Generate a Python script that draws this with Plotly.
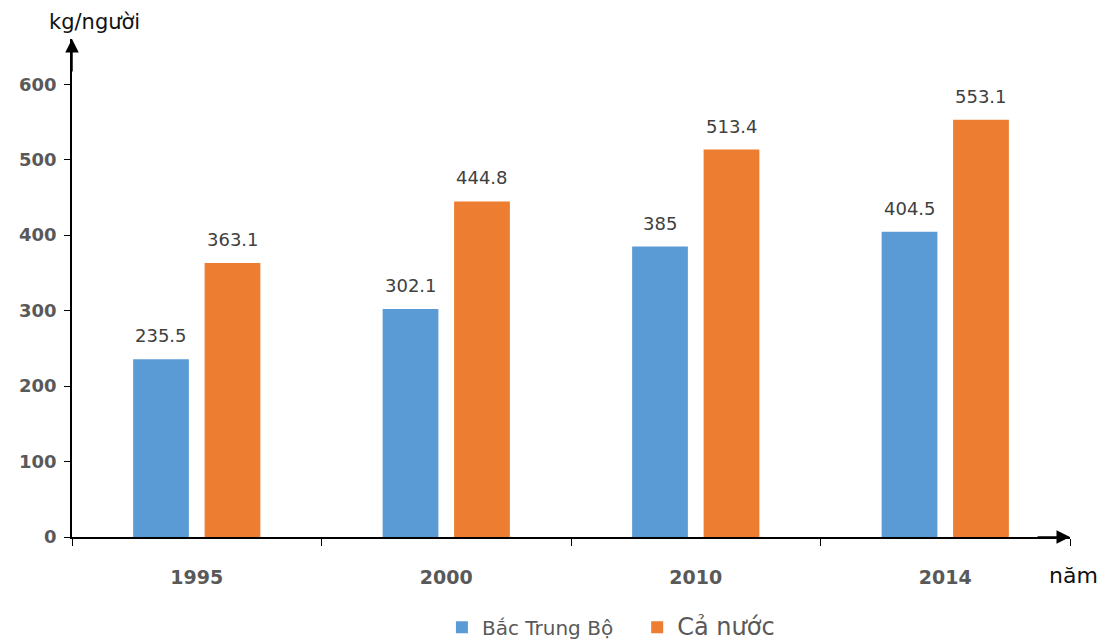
import plotly.graph_objects as go

years = ["1995", "2000", "2010", "2014"]
bac_trung_bo = [235.5, 302.1, 385, 404.5]
ca_nuoc = [363.1, 444.8, 513.4, 553.1]
y_ticks = [0, 100, 200, 300, 400, 500, 600]
series_names = ["Bắc Trung Bộ", "Cả nước"]

FONT = "DejaVu Sans"
LABEL_COLOR = "#404040"
TICK_COLOR = "#595959"
BLUE = "#5B9BD5"
ORANGE = "#ED7D31"
BAR_SHIFT = 35.75  # px offset of each grouped bar from category center

def fmt(v):
    return "%g" % v

fig = go.Figure()
fig.add_trace(go.Bar(
    name=series_names[0] + "\u00a0\u00a0\u00a0", x=years, y=bac_trung_bo,
    marker=dict(color=BLUE, line=dict(width=0)),
))
fig.add_trace(go.Bar(
    name='<span style="font-size:24px">' + series_names[1] + "</span>", x=years, y=ca_nuoc,
    marker=dict(color=ORANGE, line=dict(width=0)),
))

annotations = []
for vals, shift in ((bac_trung_bo, -BAR_SHIFT), (ca_nuoc, BAR_SHIFT)):
    for i, v in enumerate(vals):
        annotations.append(dict(
            x=i, y=v, xref="x", yref="y", text=fmt(v), showarrow=False,
            xanchor="center", yanchor="bottom", xshift=shift, yshift=11,
            font=dict(family=FONT, size=18, color=LABEL_COLOR),
        ))

annotations += [
    dict(xref="paper", yref="paper", x=0, y=1.0, ax=0, ay=34,
         showarrow=True, arrowhead=2, arrowsize=1.8, arrowwidth=1.5,
         arrowcolor="black", text=""),
    dict(xref="paper", yref="paper", x=1.0, y=0, ax=-34, ay=0,
         showarrow=True, arrowhead=2, arrowsize=1.8, arrowwidth=1.5,
         arrowcolor="black", text=""),
    dict(xref="paper", yref="paper", x=0.023, y=1.0, yshift=17,
         showarrow=False, text="kg/người", xanchor="center", yanchor="middle",
         font=dict(family=FONT, size=21, color="#111111")),
    dict(xref="paper", yref="paper", x=1.004, y=0, yshift=-38,
         showarrow=False, text="năm", xanchor="center", yanchor="middle",
         font=dict(family=FONT, size=22, color="#111111")),
]

fig.update_layout(
    width=1102, height=643,
    margin=dict(l=72, r=32, t=39, b=106, autoexpand=False),
    paper_bgcolor="white", plot_bgcolor="white",
    barmode="group", bargap=0.427, bargroupgap=0.22,
    font=dict(family=FONT, color=TICK_COLOR),
    legend=dict(orientation="h", x=0.54, xanchor="center", y=-0.181, yanchor="middle",
                font=dict(family=FONT, size=20, color=TICK_COLOR), itemwidth=30,
                traceorder="normal"),
    xaxis=dict(
        type="category", range=[-0.5, 3.5],
        showline=True, linecolor="black", linewidth=1.5,
        ticks="outside", tickson="boundaries", ticklen=7, tickcolor="black",
        tickfont=dict(family=FONT, size=19, color=TICK_COLOR, weight="bold"),
        ticklabelstandoff=22, showgrid=False, zeroline=False, automargin=False,
    ),
    yaxis=dict(
        range=[0, 660], tickvals=y_ticks,
        showline=True, linecolor="black", linewidth=1.5,
        ticks="outside", ticklen=6, tickcolor="black",
        tickfont=dict(family=FONT, size=18, color=TICK_COLOR, weight="bold"),
        ticklabelstandoff=4, showgrid=False, zeroline=False, automargin=False,
    ),
    annotations=annotations,
)

fig.write_html(
    "out.html",
    config={"displayModeBar": False},
    post_script="document.body.style.margin='0';document.documentElement.style.overflow='hidden';",
)
